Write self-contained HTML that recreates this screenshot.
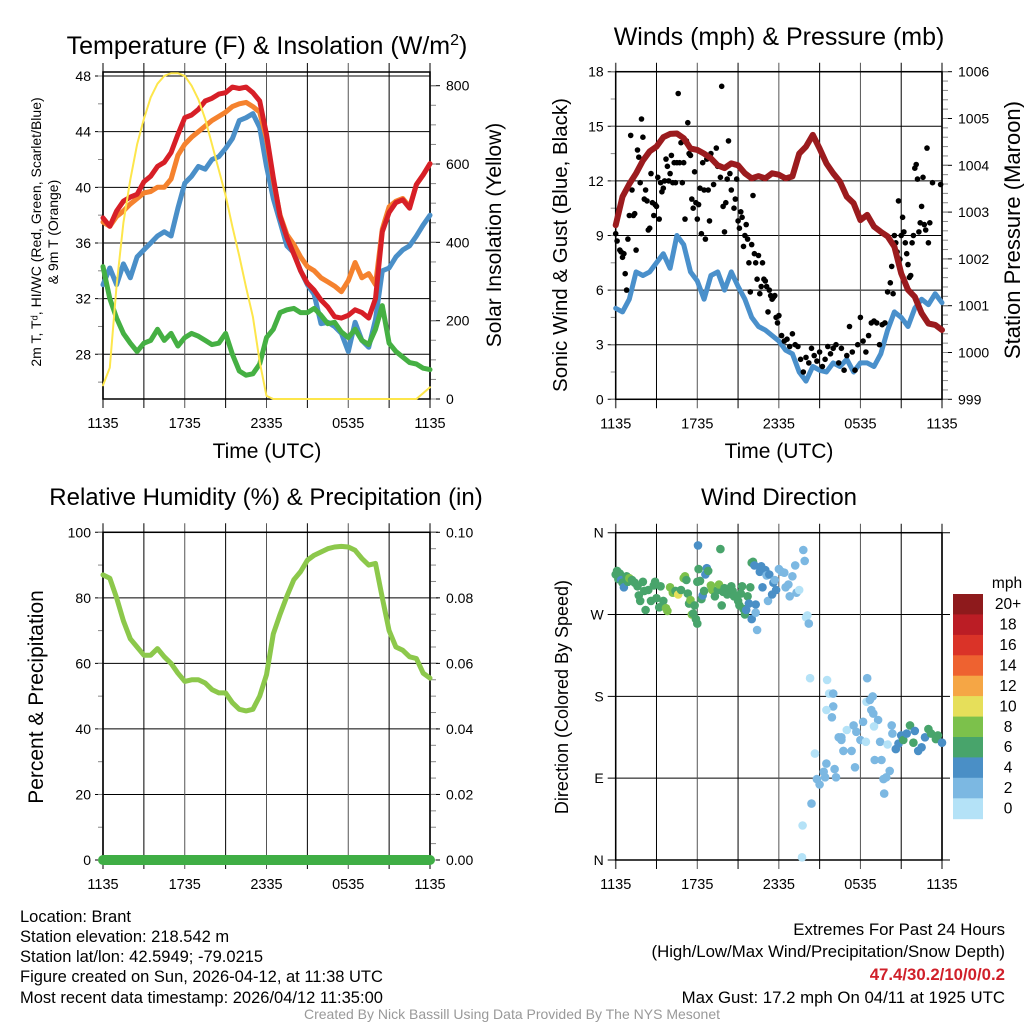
<!DOCTYPE html>
<html><head><meta charset="utf-8">
<style>
html,body{margin:0;padding:0;background:#fff;}
svg{display:block;font-family:"Liberation Sans",Arial,sans-serif;}
</style></head>
<body>
<svg id="fig" width="1024" height="1024" viewBox="0 0 1024 1024" xmlns="http://www.w3.org/2000/svg">
<rect x="0" y="0" width="1024" height="1024" fill="#fff"/>
<g id="p1"></g>
<g id="p2"></g>
<g id="p3"></g>
<g id="p4"></g>
<g id="foot" font-size="16.5" fill="#000">
<text x="20" y="922">Location: Brant</text>
<text x="20" y="942">Station elevation: 218.542 m</text>
<text x="20" y="962">Station lat/lon: 42.5949; -79.0215</text>
<text x="20" y="982">Figure created on Sun, 2026-04-12, at 11:38 UTC</text>
<text x="20" y="1003">Most recent data timestamp: 2026/04/12 11:35:00</text>
<text x="1005" y="935" text-anchor="end" font-size="16.8">Extremes For Past 24 Hours</text>
<text x="1005" y="957" text-anchor="end" font-size="16.8">(High/Low/Max Wind/Precipitation/Snow Depth)</text>
<text x="1005" y="980" text-anchor="end" font-size="16.8" font-weight="bold" fill="#d0202a">47.4/30.2/10/0/0.2</text>
<text x="1005" y="1003" text-anchor="end" font-size="16.8">Max Gust: 17.2 mph On 04/11 at 1925 UTC</text>
<text x="512" y="1019" text-anchor="middle" font-size="14" fill="#999">Created By Nick Bassill Using Data Provided By The NYS Mesonet</text>
</g>
</svg>
<script>
// ---------- data (half-hourly from 1135 UTC) ----------
const xLabels=["1135","1735","2335","0535","1135"];
const tempRed=[37.8,37.2,38.3,39.0,39.3,39.5,40.4,40.8,41.5,41.8,42.5,43.8,45.0,45.2,45.6,46.2,46.4,46.7,46.8,47.2,47.1,47.2,46.8,46.2,43.8,40.7,37.9,36.4,35.2,34.0,33.1,32.6,31.9,31.4,30.7,30.6,30.8,31.2,31.0,30.6,32.0,36.8,38.2,38.9,39.1,38.5,40.2,40.9,41.7];
const temp9m=[37.5,37.2,37.9,38.3,38.8,39.2,39.6,39.7,40.0,40.0,40.6,42.3,43.1,43.6,44.0,44.4,44.8,45.1,45.4,45.8,46.0,46.1,45.8,45.4,43.5,40.5,38.0,36.6,35.9,35.0,34.3,34.0,33.5,33.2,32.9,32.5,33.3,34.6,33.5,33.8,33.0,37.0,38.6,39.0,39.2,38.6,40.2,40.9,41.7];
const tempBlue=[33.0,34.2,33.0,34.5,33.5,35.0,35.5,36.0,36.5,36.8,36.5,38.5,40.3,40.8,41.5,41.3,42.0,42.2,42.8,43.5,44.8,45.0,45.3,44.3,41.5,39.2,37.5,35.8,35.3,34.0,33.0,32.3,30.2,30.3,30.0,29.5,28.2,30.3,29.0,28.5,30.5,34.0,34.2,35.0,35.5,35.8,36.5,37.3,38.0];
const dewGreen=[34.3,32.0,30.6,29.5,28.8,28.2,28.8,29.0,29.8,29.0,29.5,28.6,29.2,29.5,29.3,29.0,28.7,28.8,29.5,28.0,26.8,26.5,26.6,27.3,29.2,29.8,31.0,31.2,31.3,31.0,31.0,31.3,30.8,30.2,30.3,29.6,29.2,29.8,29.0,28.7,29.8,31.5,28.8,28.2,27.8,27.4,27.3,27.0,26.9];
const solar=[35,80,290,450,560,650,715,770,805,825,832,832,825,800,765,715,650,585,520,440,365,285,210,95,8,0,0,0,0,0,0,0,0,0,0,0,0,0,0,0,0,0,0,0,0,0,0,15,30];
const windSpd=[5.0,4.8,5.5,7.0,6.8,7.0,7.5,8.0,7.2,9.0,8.5,7.0,6.5,5.5,6.8,7.0,6.0,7.0,6.2,5.5,4.5,4.0,3.8,3.5,3.2,2.7,2.5,1.5,1.0,1.8,1.6,1.5,2.0,1.8,2.2,1.5,2.0,2.0,1.8,2.5,3.8,4.8,4.5,4.0,5.0,5.5,5.2,5.8,5.3];
const pressure=[1002.72,1003.33,1003.6,1003.83,1004.1,1004.3,1004.4,1004.6,1004.67,1004.68,1004.58,1004.36,1004.33,1004.25,1004.15,1004.0,1003.94,1004.04,1004.0,1003.83,1003.72,1003.77,1003.72,1003.83,1003.8,1003.72,1003.76,1004.25,1004.4,1004.65,1004.36,1004.04,1003.83,1003.65,1003.33,1003.19,1002.83,1002.94,1002.69,1002.58,1002.48,1002.26,1001.69,1001.34,1001.19,1000.84,1000.62,1000.59,1000.48];
const gustT=[0.0,0.1,0.3,0.4,0.5,0.6,0.7,0.8,0.9,1.0,1.1,1.2,1.3,1.4,1.5,1.6,1.7,1.8,1.9,2.0,2.1,2.2,2.3,2.4,2.5,2.6,2.7,2.8,2.9,3.0,3.1,3.2,3.3,3.4,3.5,3.6,3.7,3.8,3.9,4.0,4.1,4.2,4.3,4.4,4.5,4.6,4.7,4.8,4.9,5.0,5.1,5.2,5.3,5.4,5.5,5.6,5.7,5.8,5.9,6.0,6.1,6.2,6.3,6.4,6.5,6.6,6.7,6.8,6.9,7.0,7.2,7.4,7.5,7.7,7.8,7.9,8.0,8.1,8.2,8.3,8.4,8.5,8.7,8.8,8.9,9.0,9.1,9.2,9.3,9.4,9.5,9.6,9.7,9.8,9.9,10.0,10.1,10.2,10.3,10.4,10.5,10.6,10.7,10.8,10.9,11.0,11.1,11.2,11.3,11.4,11.5,11.6,11.7,11.8,11.9,12.0,12.2,12.4,12.6,12.8,13.0,13.2,13.4,13.6,13.8,14.0,14.2,14.4,14.6,14.8,15.0,15.2,15.4,15.6,15.8,16.0,16.2,16.4,16.6,16.8,17.0,17.2,17.4,17.6,17.8,18.0,18.2,18.4,18.6,18.8,19.0,19.2,19.4,19.6,19.8,20.0,20.2,20.3,20.4,20.5,20.6,20.7,20.8,20.9,21.0,21.1,21.2,21.3,21.4,21.5,21.6,21.7,21.8,21.9,22.0,22.1,22.2,22.3,22.4,22.5,22.6,22.7,22.8,22.9,23.0,23.1,23.3,23.9];
const gustV=[9.1,8.7,8.2,8.1,7.8,8.0,6.9,6.0,8.8,10.1,14.5,11.5,10.1,10.2,8.2,13.7,13.3,11.9,15.4,14.4,11.0,11.5,10.9,9.3,9.4,12.4,10.8,10.1,10.7,10.6,12.2,9.9,11.9,11.4,11.6,12.0,13.2,12.8,12.0,12.4,13.4,11.9,13.0,11.9,13.0,16.8,13.0,14.1,11.9,13.0,9.9,14.2,15.2,13.5,13.4,11.0,10.5,12.5,10.8,9.9,10.7,11.6,9.1,13.0,11.5,8.8,13.2,11.5,9.8,13.5,11.8,13.8,12.8,12.2,17.2,10.6,9.2,10.8,12.1,14.2,12.4,11.5,10.5,11.0,12.1,9.8,9.4,10.3,10.0,8.4,9.0,9.6,8.8,7.5,5.9,8.5,11.2,8.0,7.5,6.6,7.9,5.8,6.2,7.5,6.6,6.5,6.2,4.8,6.0,5.7,5.5,5.6,5.7,4.5,4.2,4.6,3.5,3.2,3.3,2.9,3.6,3.0,2.9,2.2,1.5,2.3,2.0,2.8,2.4,2.1,2.6,1.8,2.2,2.9,2.5,2.8,3.0,2.0,2.8,1.6,2.4,4.0,2.6,1.6,3.0,4.5,3.2,2.6,3.5,4.2,4.3,4.2,3.0,4.1,4.2,5.9,6.4,7.3,5.8,9.0,8.6,8.1,10.9,7.7,9.0,10.0,9.2,8.6,8.0,7.4,6.7,6.8,8.6,9.0,12.7,12.9,12.1,9.2,9.7,10.6,12.2,9.6,9.3,13.8,8.6,9.7,11.9,11.8];
const rh=[87,86,80,73,67.5,65,62.5,62.5,64.5,62,60,57,54.5,55,55,54,52,51,51,48,46,45.5,46,50,56.5,69,75,80.5,85.5,88,91.5,93,94,95,95.5,95.7,95.5,94.5,92,90,90.5,80,70,65,64,62,61.5,57,55.5];
const precip=[0,0,0,0,0,0,0,0,0,0,0,0,0,0,0,0,0,0,0,0,0,0,0,0,0,0,0,0,0,0,0,0,0,0,0,0,0,0,0,0,0,0,0,0,0,0,0,0,0];
const dirT=[0,0.1,0.2,0.3,0.4,0.5,0.6,0.8,0.9,1.0,1.2,1.4,1.6,1.7,1.8,2.0,2.1,2.2,2.4,2.6,2.8,2.9,3.0,3.2,3.3,3.5,3.7,3.8,4.0,4.2,4.4,4.6,4.8,5.0,5.1,5.2,5.3,5.4,5.5,5.6,5.7,5.8,5.9,6.0,6.0,6.05,6.1,6.2,6.3,6.4,6.5,6.6,6.7,6.8,7.0,7.1,7.3,7.5,7.6,7.7,7.8,7.9,8.0,8.2,8.4,8.5,8.6,8.7,8.8,9.0,9.1,9.2,9.3,9.4,9.5,9.6,9.7,9.8,9.9,10.0,10.0,10.1,10.2,10.3,10.3,10.4,10.6,10.7,10.8,10.9,11.0,11.1,11.2,11.3,11.5,11.6,11.7,11.8,12.0,12.2,12.4,12.5,12.7,12.8,13.0,13.2,13.3,13.5,13.8,13.9,14.0,14.1,14.2,
14.3,13.75,13.7,14.4,14.65,14.8,15.0,15.3,15.4,15.55,15.7,16.0,16.0,15.5,15.9,16.1,16.2,16.4,16.6,16.75,17.0,17.35,17.5,17.6,17.7,18.0,18.2,18.4,18.5,18.45,18.7,18.9,18.8,18.95,19.05,19.3,19.45,19.55,19.7,19.75,19.9,20.0,20.15,20.3,20.35,20.6,20.8,21.0,21.15,21.4,21.65,21.9,22.0,22.25,22.5,22.75,23.0,23.2,23.55,23.7,24.0,16.6,19.0,15.5];
const dirDeg=[314,318,309,315,308,305,300,312,306,310,308,305,301,291,285,306,296,275,297,285,302,306,288,278,301,285,277,274,300,294,296,292,297,310,312,308,293,282,286,270,271,280,265,260,306,346,320,307,287,291,296,314,321,318,302,297,290,297,303,342,280,295,299,292,297,301,296,290,291,285,280,293,301,276,270,275,290,282,300,265,327,328,324,281,272,253,317,323,300,319,319,313,285,314,292,305,308,297,320,317,316,300,303,290,312,324,294,297,341,329,267,269,260,
200,38,3,62,117,89,83,97,91,198,183,183,169,165,157,100,91,135,132,120,143,120,148,102,141,132,152,130,200,174,176,180,165,161,110,154,130,110,89,73,91,127,98,148,139,122,128,137,132,139,148,129,142,120,124,135,144,139,133,137,129,135,147,106];
const dirSpd=[7,7,7,6,4,7,4,7,6,8,7,7,6,7,6,6,6,6,6,6,7,6,6,6,7,6,8,8,8,8,6,11,7,8,8,7,6,7,8,8,6,6,6,6,6,4,6,6,6,5,6,4,4,6,8,8,7,6,8,6,6,7,6,6,6,6,7,6,6,6,6,6,6,6,6,4,7,4,6,4,6,6,4,5,2,2,4,4,4,4,4,3,2,4,4,4,3,4,2,2,3,2,2,2,2,2,2,1,2,2,1,1,2,
1,1,1,2,1,3,3,2,2,1,1,2,3,1,2,3,3,2,2,2,1,2,3,3,3,3,3,1,3,1,2,2,2,2,3,2,2,2,3,3,3,1,3,2,2,4,4,4,6,4,6,6,4,4,4,4,7,6,6,6,4,2,1,2];
const cbarLabels=["20+","18","16","14","12","10","8","6","4","2","0"];
const cbarColors=["#8e1a1c","#bb1d25","#da3328","#ee6230","#f5a645","#e6df5a","#7cc14b","#48a46b","#4a8fc6","#7cb8e2","#b4e2f7"];

// ---------- helpers ----------
const NS="http://www.w3.org/2000/svg";
function mk(tag,attrs,parent){const e=document.createElementNS(NS,tag);for(const k in attrs)e.setAttribute(k,attrs[k]);parent.appendChild(e);return e;}
function lin(v0,p0,v1,p1){return v=>p0+(v-v0)*(p1-p0)/(v1-v0);}
function txt(parent,x,y,s,size,anchor,rot){const e=mk('text',{x:x,y:y,'font-size':size,'text-anchor':anchor||'middle'},parent);if(rot)e.setAttribute('transform','rotate(-90 '+x+' '+y+')');e.textContent=s;return e;}
const tIdx=i=>i*0.5;

function panel(g,P){
  const sx=lin(0,P.x0,24,P.x1);
  P.lt.forEach(v=>{const y=P.ly(v);
    const l=mk('line',{x1:P.x0-8,x2:P.gridRight,y1:y,y2:y,stroke:'#000','stroke-width':1},g);
    
    const t=txt(g,P.x0-12,y+5,P.ltl?P.ltl(v):String(v),14,'end');
    
  });
  (P.lminor||[]).forEach(v=>{const y=P.ly(v);mk('line',{x1:P.x0-5,x2:P.x0,y1:y,y2:y,stroke:'#888','stroke-width':1},g);});
  for(let k=0;k<=8;k++){const x=sx(k*3);
    const l=mk('line',{x1:x,x2:x,y1:P.y0-9,y2:P.yb+9,stroke:k%2?'#000':'#555','stroke-width':k===0||k===8?1.5:1},g);
    }
  xLabels.forEach((s,k)=>{const t=txt(g,sx(k*6),P.yb+29,s,14.5);});
  if(P.rt){P.rt.forEach(v=>{const y=P.ry(v);mk('line',{x1:P.x1,x2:P.x1+10,y1:y,y2:y,stroke:'#000','stroke-width':1},g);
      const t=txt(g,P.x1+16,y+5,P.rtl?P.rtl(v):String(v),14,'start');});
    (P.rminor||[]).forEach(v=>{const y=P.ry(v);mk('line',{x1:P.x1,x2:P.x1+6,y1:y,y2:y,stroke:'#888','stroke-width':1},g);});}
  mk('rect',{x:P.x0,y:P.y0,width:P.x1-P.x0,height:P.yb-P.y0,fill:'none',stroke:'#000','stroke-width':1.5},g);
  return sx;
}
function line(g,sx,sy,vals,color,w,name){
  const d=vals.map((v,i)=>(i?'L':'M')+sx(tIdx(i)).toFixed(1)+','+sy(v).toFixed(1)).join('');
  const p=mk('path',{d:d,fill:'none',stroke:color,'stroke-width':w,'stroke-linejoin':'round','stroke-linecap':'round'},g);
  
  
  return p;
}
function rng(a,b,s){const r=[];for(let v=a;v<=b+1e-9;v+=s)r.push(+v.toFixed(4));return r;}

// ---------- panel 1 ----------
(function(){
  const g=document.getElementById('p1');
  const P={x0:103,x1:430,y0:72,yb:399,gridRight:430,ly:lin(48,76,28,354.3),ry:lin(0,399,800,85.7),
    lt:[28,32,36,40,44,48],lminor:rng(26,48,2),rt:[0,200,400,600,800],rminor:rng(0,800,50)};
  const sx=panel(g,P);
  line(g,sx,P.ly,tempBlue,'#4a8fc8',5,'hi-wc-line');
  line(g,sx,P.ly,dewGreen,'#45b043',5,'dewpoint-line');
  line(g,sx,P.ly,temp9m,'#f5822e',5,'temp-9m-line');
  line(g,sx,P.ly,tempRed,'#d71f27',5,'temp-2m-line');
  line(g,sx,P.ry,solar,'#fde64b',2,'solar-insolation-line');
  const t=mk('text',{x:267,y:54,'font-size':25,'text-anchor':'middle'},g);
  
  t.innerHTML='Temperature (F) &amp; Insolation (W/m<tspan dy="-9" font-size="16">2</tspan><tspan dy="9">)</tspan>';
  let a=txt(g,41,232,'2m T, T\u1d48, HI/WC (Red, Green, Scarlet/Blue)',14,'middle',true);
  a=txt(g,58,232,'& 9m T (Orange)',14,'middle',true);
  a=txt(g,501,235,'Solar Insolation (Yellow)',21,'middle',true);
  a=txt(g,267,458,'Time (UTC)',21);
})();
// ---------- panel 2 ----------
(function(){
  const g=document.getElementById('p2');
  const P={x0:615.7,x1:942,y0:71.7,yb:399.3,gridRight:942,ly:lin(0,399.3,18,71.7),ry:lin(999,399.3,1006,71.7),
    lt:[0,3,6,9,12,15,18],lminor:rng(0,18,1.5),rt:[999,1000,1001,1002,1003,1004,1005,1006],rminor:rng(999,1006,0.2)};
  const sx=panel(g,P);
  line(g,sx,P.ly,windSpd,'#4a90cb',5,'sonic-wind-line');
  gustT.forEach((t,i)=>{const c=mk('circle',{cx:sx(t).toFixed(1),cy:P.ly(gustV[i]).toFixed(1),r:2.8,fill:'#000'},g);
    });
  line(g,sx,P.ry,pressure,'#9b1b1e',6,'pressure-line');
  let a=txt(g,779,45,'Winds (mph) & Pressure (mb)',25);
  a=txt(g,567,245,'Sonic Wind & Gust (Blue, Black)',20.5,'middle',true);
  a=txt(g,1020,230,'Station Pressure (Maroon)',22,'middle',true);
  a=txt(g,779,458,'Time (UTC)',21);
})();
// ---------- panel 3 ----------
(function(){
  const g=document.getElementById('p3');
  const P={x0:103,x1:430,y0:532.3,yb:860,gridRight:438,ly:lin(0,860,100,532.3),ry:lin(0,860,0.1,532.3),
    lt:[0,20,40,60,80,100],lminor:rng(0,100,10),rt:[0,0.02,0.04,0.06,0.08,0.1],rtl:v=>v.toFixed(2),rminor:rng(0,0.1,0.005)};
  const sx=panel(g,P);
  line(g,sx,P.ly,rh,'#8cc84b',5,'relative-humidity-line');
  line(g,sx,P.ry,precip,'#3fae45',10,'precipitation-line');
  let a=txt(g,266,505,'Relative Humidity (%) & Precipitation (in)',24);
  a=txt(g,43,697,'Percent & Precipitation',21,'middle',true);
})();
// ---------- panel 4 ----------
(function(){
  const g=document.getElementById('p4');
  const P={x0:615.7,x1:942,y0:532.7,yb:860,gridRight:950,ly:lin(0,860,360,532.7),
    lt:[0,90,180,270,360],ltl:v=>({0:'N',90:'E',180:'S',270:'W',360:'N'})[v]};
  const sx=panel(g,P);
  const colorFor=s=>cbarColors[10-Math.min(10,Math.floor(s/2))];
  dirT.forEach((t,i)=>{const c=mk('circle',{cx:sx(t).toFixed(1),cy:P.ly(dirDeg[i]).toFixed(1),r:4.3,fill:colorFor(dirSpd[i])},g);
    });
  let a=txt(g,779,505,'Wind Direction',24);
  a=txt(g,568,697,'Direction (Colored By Speed)',18,'middle',true);
  const cb=mk('g',{},g);
  const h=(818.7-594)/cbarColors.length;
  cbarColors.forEach((c,i)=>{const r=mk('rect',{x:953,y:(594+i*h).toFixed(1),width:30,height:(h+0.5).toFixed(1),fill:c},cb);
    
    const t=txt(cb,1008,594+i*h+h/2+5,cbarLabels[i],15.5);});
  a=txt(g,1007,588,'mph',15.5);
})();
</script>
</body></html>
